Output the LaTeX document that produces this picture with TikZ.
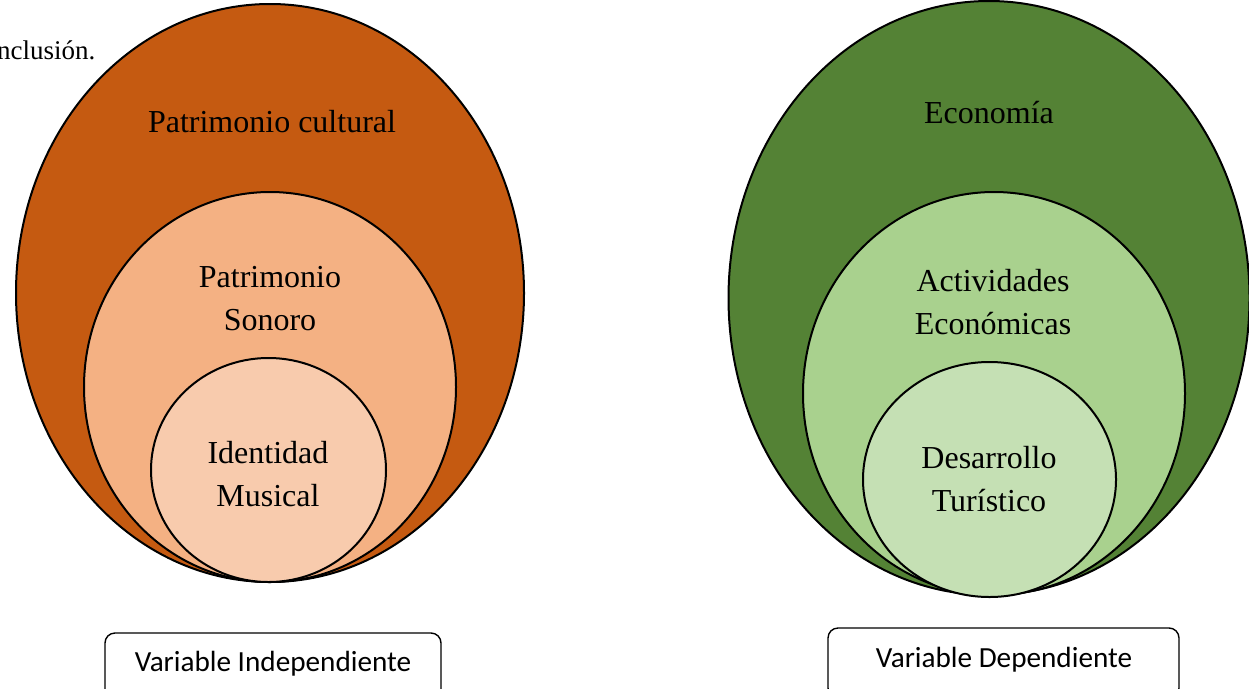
\documentclass[tikz,border=0pt]{standalone}
\usepackage{fontspec}
\setmainfont{Liberation Serif}
\newfontfamily\boxfont{Carlito}
\usetikzlibrary{shapes.geometric}
\definecolor{orA}{HTML}{C55A11}
\definecolor{orB}{HTML}{F4B183}
\definecolor{orC}{HTML}{F8CBAD}
\definecolor{grA}{HTML}{548235}
\definecolor{grB}{HTML}{A9D18E}
\definecolor{grC}{HTML}{C5E0B4}
\tikzset{
  blob/.style={ellipse, draw=black, line width=2pt, inner sep=0pt},
  lbl/.style={align=center, font=\fontsize{32}{43}\selectfont, text=black},
  varbox/.style={draw=black, line width=1.4pt, rounded corners=10pt, inner sep=0pt},
  vtxt/.style={font=\boxfont\fontsize{29.2}{32}\selectfont, inner sep=0pt}
}
\begin{document}
\begin{tikzpicture}[x=1pt,y=-1pt]
\useasboundingbox (0,0) rectangle (1249,688);
\clip (0,0) rectangle (1249,688);
% left
\node[blob, fill=orA, minimum width=508pt, minimum height=578pt] (lo) at (270,293) {};
\node[blob, fill=orB, minimum width=372pt, minimum height=390pt] (lm) at (270,387) {};
\node[blob, fill=orC, minimum width=235pt, minimum height=224pt] (li) at (268.5,470) {};
\node[lbl] (lot) at (272,122) {Patrimonio cultural};
\node[lbl] (lmt) at (270,299) {Patrimonio\\Sonoro};
\node[lbl] (lit) at (268,474) {Identidad\\Musical};
% right
\node[blob, fill=grA, minimum width=521pt, minimum height=594pt] (ro) at (989,298) {};
\node[blob, fill=grB, minimum width=382pt, minimum height=403pt] (rm) at (994,393.5) {};
\node[blob, fill=grC, minimum width=253pt, minimum height=235pt] (ri) at (989.5,479.5) {};
\node[lbl] (rot) at (989,113) {Economía};
\node[lbl] (rmt) at (993,302) {Actividades\\Económicas};
\node[lbl] (rit) at (989,479) {Desarrollo\\Turístico};
% caption fragment
\node[anchor=west, inner sep=0pt, font=\fontsize{27}{30}\selectfont] (cap) at (-3,50) {nclusión.};
% boxes
\node[varbox, minimum width=336pt, minimum height=70pt] (vi) at (273,668) {};
\node[vtxt] (vit) at (273,664) {Variable Independiente};
\node[varbox, minimum width=351pt, minimum height=70pt] (vd) at (1003.5,663) {};
\node[vtxt] (vdt) at (1004,660) {Variable Dependiente};
\end{tikzpicture}
\end{document}
